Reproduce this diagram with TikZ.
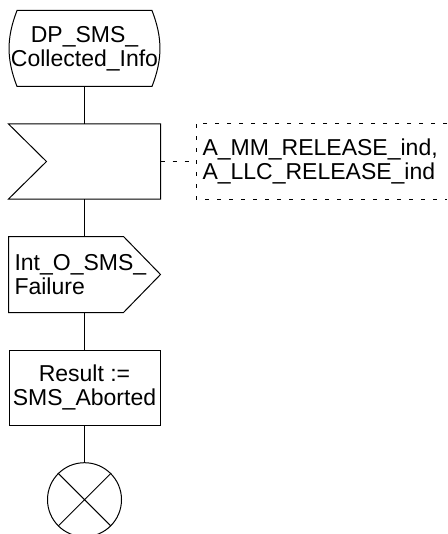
\documentclass[tikz,border=0pt]{standalone}
\usepackage{fontspec}
\setmainfont{Liberation Sans}
\begin{document}
\begin{tikzpicture}[
    x=0.5pt, y=-0.5pt,       % 按像素坐标绘制
    font=\fontsize{11.5}{12}\selectfont,
    line width=0.5pt,
    sym/.style={inner sep=0pt, minimum width=75.5pt, minimum height=37.5pt},
    cmtline/.style={dash pattern=on 2pt off 4pt}
]

    \useasboundingbox (0,0) rectangle (448,534);

    % --- 1. 定义节点位置 (Nodes) ---
    \node[sym, minimum width=67pt, inner xsep=-4pt, align=center] (start) at (84.5, 48.5) {DP\_SMS\_\\Collected\_Info};
    \node[sym, minimum height=37pt] (in) at (84.5, 161.5) {};
    \node[sym, text width=70pt, inner xsep=2.5pt, align=left] (out) at (84.5, 274.5) {Int\_O\_SMS\_\\Failure};
    \node[sym, draw, align=center] (task) at (84.5, 387.5) {Result :=\\SMS\_Aborted};
    \node[circle, draw, minimum size=37pt, inner sep=0pt] (stop) at (84.5, 499.7) {};

    % 注释框 (Comment)，右侧开口
    \node[anchor=west, text width=119pt, inner xsep=3pt, minimum height=37.5pt, align=left] (cmt) at (196, 161.5)
        {A\_MM\_RELEASE\_ind,\\A\_LLC\_RELEASE\_ind};

    % --- 2. 绘制符号外框 (Outlines) ---

    % 开始符号：左右两侧为弧线
    \draw (start.north east) to[bend left=21] (start.south east)
        -- (start.south west) to[bend left=21] (start.north west) -- cycle;

    % 输入信号：左侧凹口
    \draw (in.north west) -- (in.north east) -- (in.south east)
        -- (in.south west) -- ([xshift=19pt]in.west) -- cycle;

    % 输出信号：右侧尖角
    \draw (out.north west) -- ([xshift=-18.5pt]out.north east) -- (out.east)
        -- ([xshift=-18.5pt]out.south east) -- (out.south west) -- cycle;

    % 结束符号：圆内打叉
    \draw (stop.north west) -- (stop.south east)
          (stop.north east) -- (stop.south west);

    % 注释的虚线括号
    \draw[cmtline] (cmt.north east) -- (cmt.north west)
        -- (cmt.south west) -- (cmt.south east);

    % --- 3. 绘制连线 (Edges) ---
    \draw (start) -- (in);
    \draw (in) -- (out);
    \draw (out) -- (task);
    \draw (task) -- (stop);
    \draw[cmtline] (in) -- (cmt);

\end{tikzpicture}
\end{document}
